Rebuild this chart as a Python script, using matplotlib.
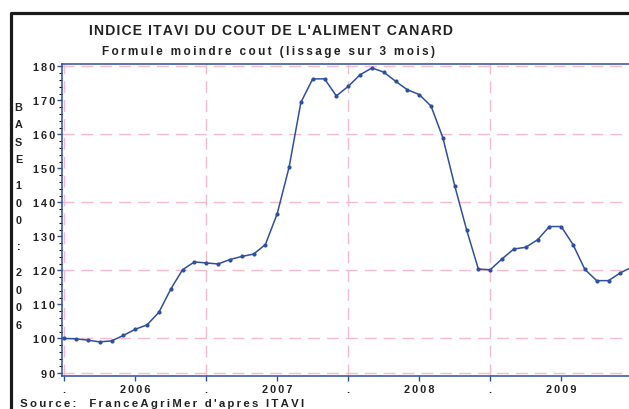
import matplotlib
matplotlib.use("Agg")
import matplotlib.pyplot as plt
from matplotlib.lines import Line2D
from matplotlib.ticker import FixedLocator, MultipleLocator

# indice mensuel (base 100 : 2006)
months = list(range(49))
indice = [100.0, 99.9, 99.5, 99.0, 99.3, 100.9, 102.7, 104.0, 107.7, 114.5,
          120.2, 122.5, 122.2, 121.9, 123.2, 124.1, 124.8, 127.6, 136.7, 150.3,
          169.4, 176.3, 176.3, 171.3, 174.1, 177.5, 179.5, 178.3, 175.6, 173.1,
          171.7, 168.3, 159.0, 144.9, 132.0, 120.4, 120.2, 123.4, 126.3, 126.8,
          129.0, 132.9, 132.9, 127.6, 120.3, 117.0, 117.0, 119.3, 121.0]

xtick_pos = [0, 6, 12, 18, 24, 30, 36, 42]
xtick_labels = [".", "2006", ".", "2007", ".", "2008", ".", "2009"]
year_lines = [0, 12, 24, 36, 48]
ref_lines = [90, 100, 120, 140, 160, 180]

title = "INDICE ITAVI DU COUT DE L'ALIMENT CANARD"
subtitle = "Formule moindre cout (lissage sur 3 mois)"
ylabel = "BASE 100 : 2006"
source = "Source:  FranceAgriMer d'apres ITAVI"

BLUE = "#2f4f9f"
PINK = "#f6bccb"
FONT = ["Liberation Sans", "DejaVu Sans"]
W, H = 629, 410
THIN = "\u2009"


def spaced(s, sep="\u200a"):
    return sep.join(s)


def px(x, y):
    return x / W, 1 - y / H


plt.rcParams['font.family'] = FONT
plt.rcParams['font.weight'] = 'bold'

fig = plt.figure(figsize=(W / 100, H / 100), dpi=100)
ax = fig.add_axes([62 / W, 1 - 376.7 / H, 1 - 62 / W, (376.7 - 64.7) / H])

for v in ref_lines:
    ax.axhline(v, color=PINK, lw=1.0, dashes=(8.6, 5), zorder=1)
for v in year_lines:
    ax.axvline(v, color=PINK, lw=1.0, dashes=(8.6, 5), zorder=1)

ax.plot(months, indice, color=BLUE, lw=1.1, marker='o', markersize=3.0,
        markeredgewidth=0, zorder=3)

ax.set_xlim(-0.19, 47.73)
ax.set_ylim(89.06, 180.76)

ax.xaxis.set_major_locator(FixedLocator(xtick_pos))
ax.set_xticklabels([spaced(t, THIN) for t in xtick_labels])
ax.yaxis.set_major_locator(MultipleLocator(10))
ax.yaxis.set_minor_locator(MultipleLocator(2))
ax.set_yticklabels([spaced(str(int(v)), THIN) for v in ax.get_yticks()])

ax.tick_params(axis='both', colors=BLUE, labelcolor='#222222', labelsize=7.8)
ax.tick_params(axis='x', length=3.5, width=1, pad=2.5)
ax.tick_params(axis='y', which='major', length=3.5, width=1, pad=1.5)
ax.tick_params(axis='y', which='minor', length=2, width=0.8)

for side in ['left', 'top', 'bottom']:
    ax.spines[side].set_color(BLUE)
    ax.spines[side].set_linewidth(1.1)
ax.spines['right'].set_visible(False)

# cadre noir exterieur
x0, y0 = px(11, 13.8)
fig.add_artist(Line2D([x0, x0, 1.05], [-0.05, y0, y0], color='#1a1a1a',
                      lw=2.3, transform=fig.transFigure))

fig.text(*px(271, 31), spaced(title), ha='center', va='center',
         fontsize=10.1, color='#222222')
fig.text(*px(268, 52), spaced(subtitle, THIN), ha='center', va='center',
         fontsize=8.5, color='#222222')

# libelle vertical lettre par lettre
y = 107.7
for ch in ylabel:
    if ch == ' ':
        y += 8.5
        continue
    fig.text(*px(18.5, y), ch, ha='center', va='center', fontsize=7.8,
             color='#222222')
    y += 17.5

fig.text(*px(20, 404), spaced(source, THIN), ha='left', va='center',
         fontsize=8.2, color='#222222')

fig.savefig("out.png", dpi=100)
